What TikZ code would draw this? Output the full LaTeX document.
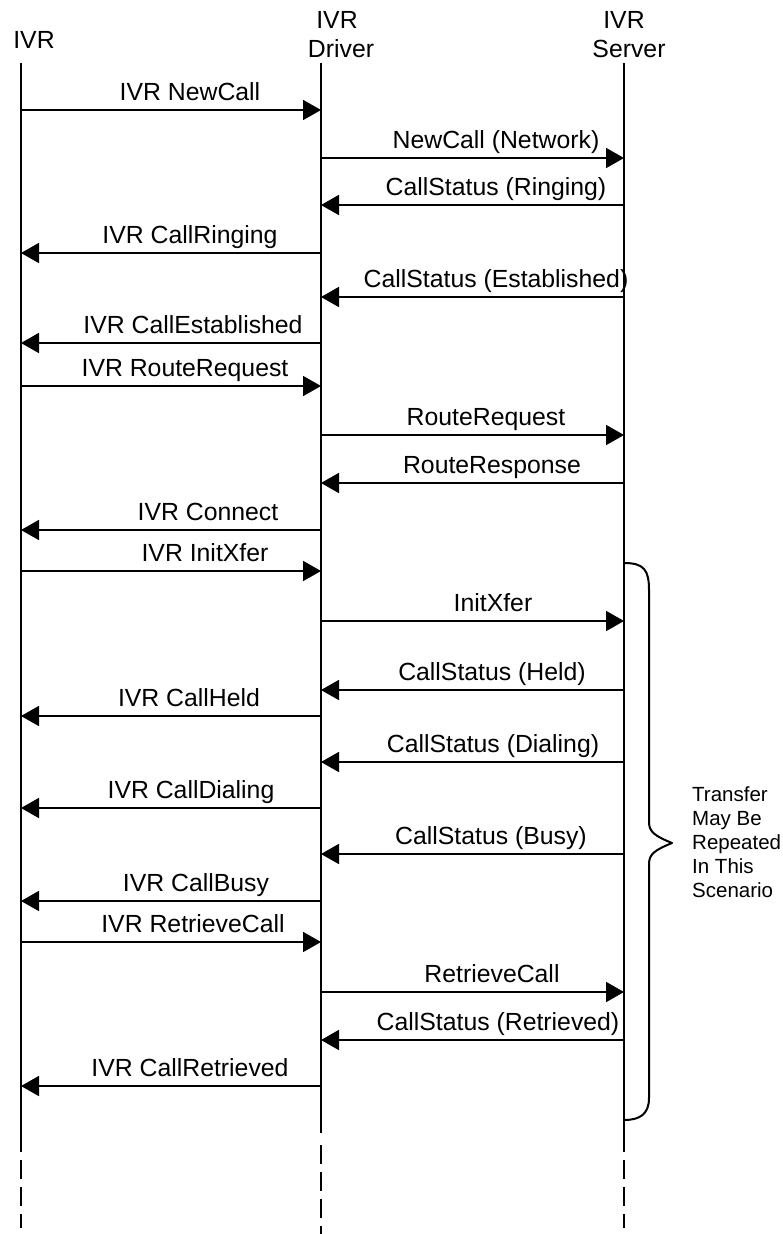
\documentclass[tikz,border=0pt]{standalone}
\usepackage{fontspec}
\setmainfont{Liberation Sans}
\usetikzlibrary{arrows.meta}
\tikzset{
  life/.style={line width=1.8pt},
  lifedash/.style={line width=2.2pt, dash pattern=on 19pt off 8pt},
  msg/.style={line width=1.8pt, -{Triangle[length=18pt,width=20pt]}},
  lbl/.style={anchor=base, inner sep=0pt, font=\fontsize{24.8}{28}\selectfont},
  hdr/.style={anchor=base, inner sep=0pt, font=\fontsize{24.8}{28}\selectfont},
  note/.style={anchor=base west, inner sep=0pt, font=\fontsize{20.5}{24}\selectfont},
  bracestyle/.style={line width=2pt, line join=round}
}
\newcommand\seqmsg[6]{%
  \coordinate (#1s) at (#3,#2);
  \coordinate (#1e) at (#4,#2);
  \draw[msg] (#1s) -- (#1e);
  \node[lbl] (#1t) at (#5,#2-10) {#6};
}
\begin{document}
\begin{tikzpicture}[x=1pt,y=-1pt]
\useasboundingbox (0,0) rectangle (783,1234);
% headers
\node[hdr] (hIVR) at (34,48) {IVR};
\node[hdr] (hDrv1) at (337,28) {IVR};
\node[hdr] (hDrv2) at (341,57) {Driver};
\node[hdr] (hSrv1) at (624,28) {IVR};
\node[hdr] (hSrv2) at (629,57) {Server};
% lifelines
\coordinate (ivrTop) at (21,63);
\coordinate (ivrBot) at (21,1133);
\coordinate (ivrEnd) at (21,1228);
\coordinate (drvTop) at (321,63);
\coordinate (drvBot) at (321,1133);
\coordinate (drvDash) at (321,1145);
\coordinate (drvEnd) at (321,1234);
\coordinate (srvTop) at (624,63);
\coordinate (srvBot) at (624,1133);
\coordinate (srvEnd) at (624,1228);
\draw[life] (ivrTop) -- (ivrBot);
\draw[life] (drvTop) -- (drvBot);
\draw[life] (srvTop) -- (srvBot);
\draw[lifedash] (ivrBot) -- (ivrEnd);
\draw[lifedash] (drvDash) -- (drvEnd);
\draw[lifedash] (srvBot) -- (srvEnd);
% messages
\seqmsg{m1}{110}{21}{321}{190}{IVR NewCall}
\seqmsg{m2}{158}{321}{624}{496}{NewCall (Network)}
\seqmsg{m3}{205}{624}{321}{496}{CallStatus (Ringing)}
\seqmsg{m4}{253}{321}{21}{190}{IVR CallRinging}
\seqmsg{m5}{297}{624}{321}{496}{CallStatus (Established)}
\seqmsg{m6}{343}{321}{21}{193}{IVR CallEstablished}
\seqmsg{m7}{386}{21}{321}{185}{IVR RouteRequest}
\seqmsg{m8}{435}{321}{624}{486}{RouteRequest}
\seqmsg{m9}{483}{624}{321}{492}{RouteResponse}
\seqmsg{m10}{530}{321}{21}{208}{IVR Connect}
\seqmsg{m11}{571}{21}{321}{205}{IVR InitXfer}
\seqmsg{m12}{621}{321}{624}{493}{InitXfer}
\seqmsg{m13}{690}{624}{321}{492}{CallStatus (Held)}
\seqmsg{m14}{716}{321}{21}{189}{IVR CallHeld}
\seqmsg{m15}{762}{624}{321}{493}{CallStatus (Dialing)}
\seqmsg{m16}{808}{321}{21}{191}{IVR CallDialing}
\seqmsg{m17}{854}{624}{321}{491}{CallStatus (Busy)}
\seqmsg{m18}{901}{321}{21}{196}{IVR CallBusy}
\seqmsg{m19}{942}{21}{321}{193}{IVR RetrieveCall}
\seqmsg{m20}{992}{321}{624}{492}{RetrieveCall}
\seqmsg{m21}{1040}{624}{321}{498}{CallStatus (Retrieved)}
\seqmsg{m22}{1086}{321}{21}{190}{IVR CallRetrieved}
% brace
\coordinate (brTop) at (624,563);
\coordinate (brTip) at (672,843);
\coordinate (brBot) at (624,1120);
\draw[bracestyle] (brTop) .. controls (644,563) and (649,570) .. (649,590)
  -- (649,822) .. controls (649,832) and (655,836) .. (brTip)
  .. controls (655,850) and (649,854) .. (649,864)
  -- (649,1098) .. controls (649,1114) and (640,1120) .. (brBot);
% note
\node[note] (n1) at (692,801) {Transfer};
\node[note] (n2) at (692,825) {May Be};
\node[note] (n3) at (692,849) {Repeated};
\node[note] (n4) at (692,873) {In This};
\node[note] (n5) at (692,897) {Scenario};
\end{tikzpicture}
\end{document}
